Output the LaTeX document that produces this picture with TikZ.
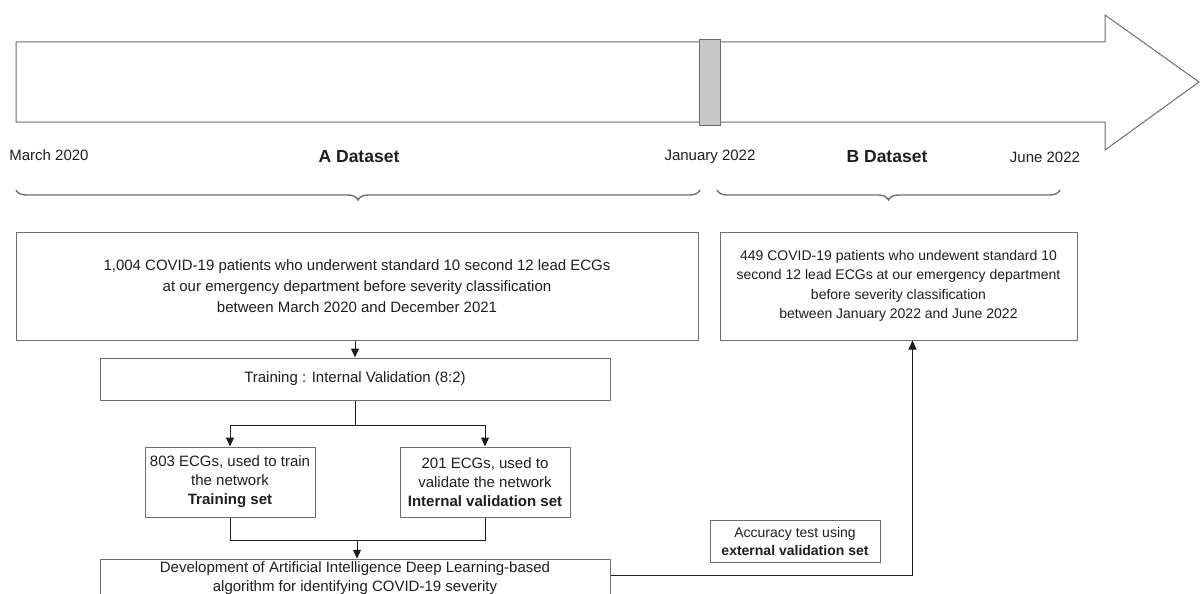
\documentclass[tikz,border=0pt]{standalone}
\usepackage{fontspec}
\setmainfont{Liberation Sans}
\usetikzlibrary{arrows.meta,decorations.pathreplacing}
\definecolor{boxline}{HTML}{6E6E6E}
\definecolor{marker}{HTML}{C8C8C8}
\definecolor{ink}{HTML}{1E1E1E}
\tikzset{
  stagebox/.style={draw=boxline,line width=1pt,align=center,inner sep=2pt,
    text=ink,font=\fontsize{15}{21}\selectfont},
  flow/.style={draw=ink,line width=1pt,-{Triangle[length=9pt,width=8pt]}},
  wire/.style={draw=ink,line width=1pt},
  period/.style={draw=boxline,line width=1.4pt,
    decorate,decoration={brace,mirror,amplitude=10pt}},
}
\begin{document}
\begin{tikzpicture}[x=1pt,y=-1pt]
  \clip (0,0) rectangle (1200,594);
  % timeline
  \draw[boxline,line width=1pt,fill=white] (16,42) -- (1105,42) -- (1105,15) -- (1199,82)
    -- (1105,150) -- (1105,122) -- (16,122) -- cycle;
  \draw[boxline,line width=1pt,fill=marker] (699,40) rectangle (720,125);
  \begin{scope}[every node/.style={text=ink,font=\fontsize{15}{17}\selectfont}]
    \node (march) at (49,155) {March 2020};
    \node (jan) at (710,157) {January 2022};
    \node (june) at (1045,157) {June 2022};
    \node[font=\fontsize{17.5}{20}\selectfont\bfseries] (setA) at (359,157) {A Dataset};
    \node[font=\fontsize{17.5}{20}\selectfont\bfseries] (setB) at (887,157) {B Dataset};
  \end{scope}
  \draw[period] (16,190) -- (700,190);
  \draw[period] (717,190) -- (1060,190);
  % boxes
  \begin{scope}[every node/.style={stagebox}]
    \node[minimum width=682pt,minimum height=108pt] (cohortA) at (357,286)
      {1,004 COVID-19 patients who underwent standard 10 second 12 lead ECGs\\
       at our emergency department before severity classification\\
       between March 2020 and December 2021};
    \node[minimum width=357pt,minimum height=108pt,font=\fontsize{14}{19.5}\selectfont] (cohortB) at (898.5,286)
      {449 COVID-19 patients who undewent standard 10\\
       second 12 lead ECGs at our emergency department\\
       before severity classification\\
       between January 2022 and June 2022};
    \node[minimum width=510pt,minimum height=42pt] (split) at (355,379)
      {Training : Internal Validation (8:2)};
    \node[minimum width=170pt,minimum height=70pt,font=\fontsize{15}{19}\selectfont] (trainset) at (230,482)
      {803 ECGs, used to train\\ the network\\ \textbf{Training set}};
    \node[minimum width=170pt,minimum height=70pt,font=\fontsize{15}{19}\selectfont] (intset) at (485,482)
      {201 ECGs, used to\\ validate the network\\ \textbf{Internal validation set}};
    \node[minimum width=510pt,minimum height=36pt,font=\fontsize{15}{19.5}\selectfont] (develop) at (355,578)
      {Development of Artificial Intelligence Deep Learning-based\\
       algorithm for identifying COVID-19 severity};
    \node[minimum width=170pt,minimum height=42pt,font=\fontsize{14}{18}\selectfont] (acc) at (795,541)
      {Accuracy test using\\ \textbf{external validation set}};
  \end{scope}
  % connectors
  \draw[flow] (cohortA.south -| split.north) -- (split.north);
  \draw[wire] (split.south) -- ++(0,25) coordinate (fork);
  \draw[flow] (fork) -| (trainset.north);
  \draw[flow] (fork) -| (intset.north);
  \draw[wire] (trainset.south) |- ++(127,23) coordinate (merge);
  \draw[wire] (intset.south) |- (merge);
  \draw[flow] (merge) -- (merge |- develop.north);
  \draw[flow] ([yshift=3pt]develop.east) -| ([xshift=14pt]cohortB.south);
\end{tikzpicture}
\end{document}
